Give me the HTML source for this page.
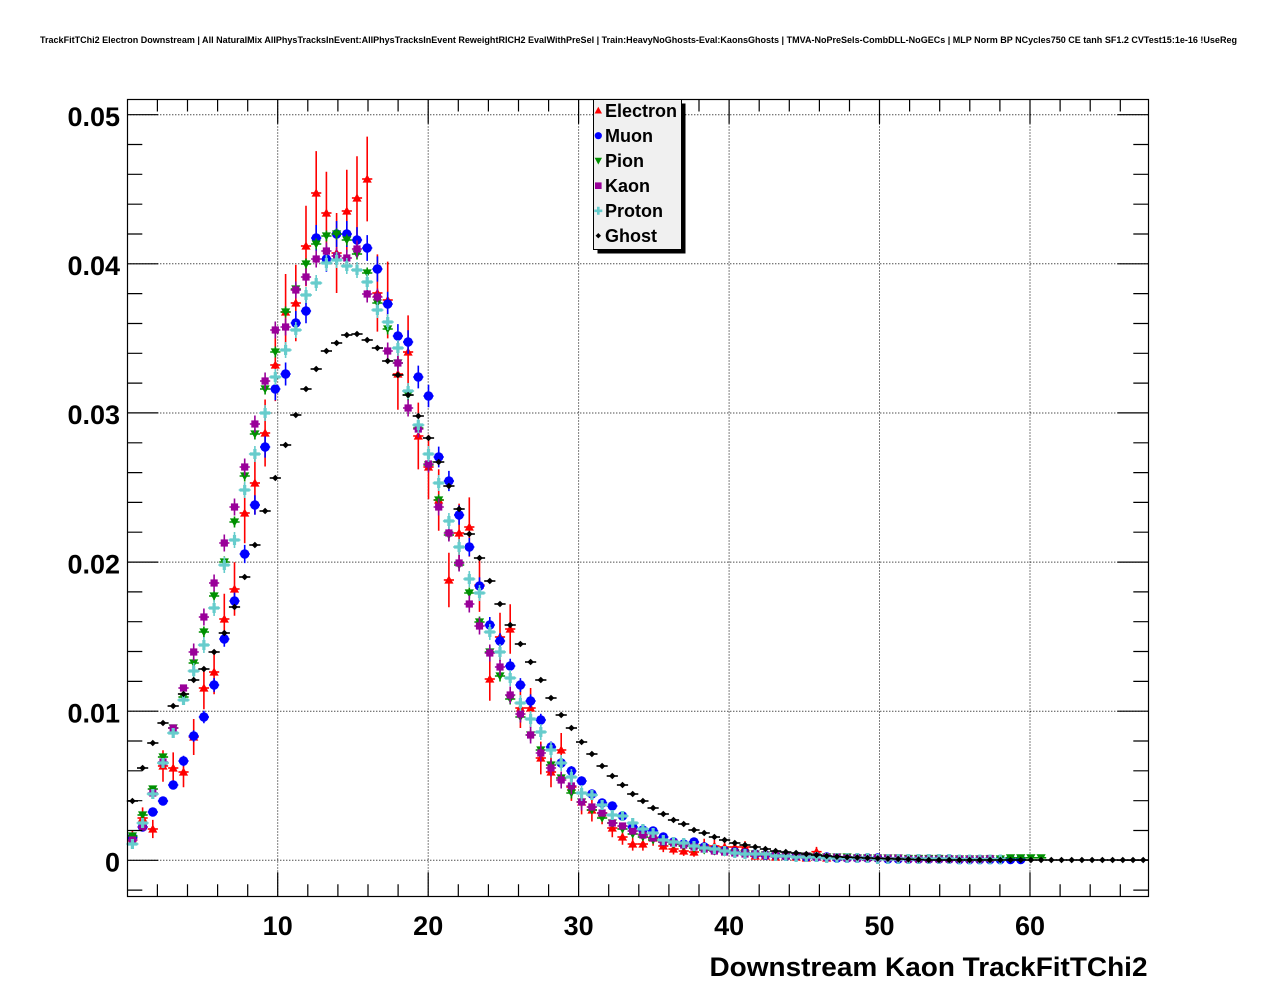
<!DOCTYPE html>
<html>
<head>
<meta charset="utf-8">
<style>
html,body{margin:0;padding:0;background:#fff;}
svg{display:block;}
text{font-family:"Liberation Sans",Arial,sans-serif;font-weight:bold;fill:#000;}
</style>
</head>
<body>
<svg width="1276" height="996" viewBox="0 0 1276 996" xmlns="http://www.w3.org/2000/svg">
<defs>
<marker id="mE" viewBox="-10 -10 20 20" markerWidth="20" markerHeight="20" refX="0" refY="0" markerUnits="userSpaceOnUse" orient="0" overflow="visible">
<path d="M-5.1,0H5.1" stroke="#ff0000" stroke-width="1.6"/>
<polygon points="0,-4.6 4.6,3.6 -4.6,3.6" fill="#ff0000"/>
</marker>
<marker id="mM" viewBox="-10 -10 20 20" markerWidth="20" markerHeight="20" refX="0" refY="0" markerUnits="userSpaceOnUse" orient="0" overflow="visible">
<path d="M-5.1,0H5.1" stroke="#0000ff" stroke-width="1.6"/>
<circle cx="0" cy="0" r="4.7" fill="#0000ff"/>
</marker>
<marker id="mP" viewBox="-10 -10 20 20" markerWidth="20" markerHeight="20" refX="0" refY="0" markerUnits="userSpaceOnUse" orient="0" overflow="visible">
<path d="M-5.1,0H5.1M0,-5.5V5.5" stroke="#009000" stroke-width="1.6"/>
<polygon points="0,4.6 4.6,-3.6 -4.6,-3.6" fill="#009000"/>
</marker>
<marker id="mP0" viewBox="-10 -10 20 20" markerWidth="20" markerHeight="20" refX="0" refY="0" markerUnits="userSpaceOnUse" orient="0" overflow="visible">
<path d="M-5.1,0H5.1" stroke="#009000" stroke-width="1.6"/>
<polygon points="0,4.6 4.6,-3.6 -4.6,-3.6" fill="#009000"/>
</marker>
<marker id="mK" viewBox="-10 -10 20 20" markerWidth="20" markerHeight="20" refX="0" refY="0" markerUnits="userSpaceOnUse" orient="0" overflow="visible">
<path d="M-5.1,0H5.1M0,-8.5V8.5" stroke="#990099" stroke-width="1.6"/>
<rect x="-3.6" y="-3.6" width="7.2" height="7.2" fill="#990099"/>
</marker>
<marker id="mK0" viewBox="-10 -10 20 20" markerWidth="20" markerHeight="20" refX="0" refY="0" markerUnits="userSpaceOnUse" orient="0" overflow="visible">
<path d="M-5.1,0H5.1" stroke="#990099" stroke-width="1.6"/>
<rect x="-3.6" y="-3.6" width="7.2" height="7.2" fill="#990099"/>
</marker>
<marker id="mC" viewBox="-10 -10 20 20" markerWidth="20" markerHeight="20" refX="0" refY="0" markerUnits="userSpaceOnUse" orient="0" overflow="visible">
<path d="M-6,0H6M0,-8V8" stroke="#66cccc" stroke-width="1.6"/>
<path d="M-5,-1.6h10v3.2h-10zM-1.6,-5h3.2v10h-3.2z" fill="#66cccc"/>
</marker>
<marker id="mC0" viewBox="-10 -10 20 20" markerWidth="20" markerHeight="20" refX="0" refY="0" markerUnits="userSpaceOnUse" orient="0" overflow="visible">
<path d="M-6,0H6" stroke="#66cccc" stroke-width="1.6"/>
<path d="M-5,-1.6h10v3.2h-10zM-1.6,-5h3.2v10h-3.2z" fill="#66cccc"/>
</marker>
<marker id="mG" viewBox="-10 -10 20 20" markerWidth="20" markerHeight="20" refX="0" refY="0" markerUnits="userSpaceOnUse" orient="0" overflow="visible">
<path d="M-5.6,0H5.6" stroke="#000" stroke-width="1.6"/>
<polygon points="0,-3.3 3.3,0 0,3.3 -3.3,0" fill="#000"/>
</marker>
</defs>

<rect x="0" y="0" width="1276" height="996" fill="#fff"/>
<text x="40" y="43" font-size="9.6" textLength="1197" lengthAdjust="spacingAndGlyphs">TrackFitTChi2 Electron Downstream | All NaturalMix AllPhysTracksInEvent:AllPhysTracksInEvent ReweightRICH2 EvalWithPreSel | Train:HeavyNoGhosts-Eval:KaonsGhosts | TMVA-NoPreSels-CombDLL-NoGECs | MLP Norm BP NCycles750 CE tanh SF1.2 CVTest15:1e-16 !UseReg</text>

<g stroke="#000" stroke-width="1" stroke-dasharray="1 2" fill="none">
<line x1="277.7" y1="99.5" x2="277.7" y2="896.3"/>
<line x1="428.2" y1="99.5" x2="428.2" y2="896.3"/>
<line x1="578.6" y1="99.5" x2="578.6" y2="896.3"/>
<line x1="729.1" y1="99.5" x2="729.1" y2="896.3"/>
<line x1="879.5" y1="99.5" x2="879.5" y2="896.3"/>
<line x1="1030" y1="99.5" x2="1030" y2="896.3"/>
<line x1="127.3" y1="860.3" x2="1148.3" y2="860.3"/>
<line x1="127.3" y1="711.2" x2="1148.3" y2="711.2"/>
<line x1="127.3" y1="562.1" x2="1148.3" y2="562.1"/>
<line x1="127.3" y1="413" x2="1148.3" y2="413"/>
<line x1="127.3" y1="263.8" x2="1148.3" y2="263.8"/>
<line x1="127.3" y1="114.7" x2="1148.3" y2="114.7"/>
</g>

<!-- Electron -->
<path fill="none" stroke="#ff0000" stroke-width="1.6" d="M132.4,830.3V845.7M142.6,807.4V828.6M152.8,819.9V838.1M163,750.2V781.8M173.2,752.4V783.6M183.5,756.8V787.2M193.7,719V755M203.9,666.7V709.3M214.1,649.7V694.3M224.3,593.8V644.2M234.5,562.3V615.7M244.7,482.8V543.2M254.9,451.5V514.5M265.1,399.5V466.5M275.3,328.9V401.1M285.6,274V350M295.8,264.7V341.3M306,205.8V286.2M316.2,151.1V234.9M326.4,171.7V254.3M336.6,213V293M346.8,169.7V252.3M357,156.2V239.8M367.2,136.6V221.4M377.4,254.4V331.6M387.7,261.6V338.4M397.9,338.2V409.8M408.1,315.4V388.6M418.3,402.6V469.4M428.5,434.8V499.2M438.7,469.2V530.8M448.9,552.8V607.2M459.1,503.6V562.4M469.3,497.4V556.6M479.5,558.1V611.9M489.8,657.2V700.8M500,612.8V661.2M510.2,604.3V653.7M520.4,688V728M530.6,688V728M540.8,741.6V774.4M551,756.8V787.2M561.2,733V767M571.4,773.1V800.9M581.6,789.6V814.4M591.9,798.5V821.5M602.1,801.8V824.2M612.3,818.8V837.2M622.5,829.2V844.8M632.7,837.4V850.6M642.9,837.4V850.6M653.1,830.3V845.7M663.3,839.9V852.1M673.5,843.5V854.5M683.7,846.1V855.9M694,847.3V856.7M704.2,838.7V851.3M714.4,839.9V852.1M724.6,841.1V852.9M734.8,841.1V852.9M745,841.1V852.9M755.2,852.6V859.4M765.4,852.6V859.4M775.6,853.9V860.1M785.8,852.6V859.4M796.1,853.9V860.1M806.3,855.5V860.5M816.5,846.9V856.5M826.7,855.5V860.5"/>
<polyline fill="none" stroke="none" marker-start="url(#mE)" marker-mid="url(#mE)" marker-end="url(#mE)" points="132.4,838 142.6,818 152.8,829 163,766 173.2,768 183.5,772 193.7,737 203.9,688 214.1,672 224.3,619 234.5,589 244.7,513 254.9,483 265.1,433 275.3,365 285.6,312 295.8,303 306,246 316.2,193 326.4,213 336.6,253 346.8,211 357,198 367.2,179 377.4,293 387.7,300 397.9,374 408.1,352 418.3,436 428.5,467 438.7,500 448.9,580 459.1,533 469.3,527 479.5,585 489.8,679 500,637 510.2,629 520.4,708 530.6,708 540.8,758 551,772 561.2,750 571.4,787 581.6,802 591.9,810 602.1,813 612.3,828 622.5,837 632.7,844 642.9,844 653.1,838 663.3,846 673.5,849 683.7,851 694,852 704.2,845 714.4,846 724.6,847 734.8,847 745,847 755.2,856 765.4,856 775.6,857 785.8,856 796.1,857 806.3,858 816.5,851.7 826.7,858"/>

<!-- Muon -->
<path fill="none" stroke="#0000ff" stroke-width="1.6" d="M132.4,834.5V839.5M142.6,824V830M152.8,808.4V815.6M163,797V805M173.2,780.5V789.5M183.5,755.8V766.2M193.7,730.2V741.8M203.9,710.8V723.2M214.1,678.1V691.9M224.3,631.3V646.7M234.5,592.6V609.4M244.7,544.9V563.1M254.9,495.2V514.8M265.1,436.4V457.6M275.3,377.7V400.3M285.6,362.5V385.5M295.8,311V335M306,298.8V323.2M316.2,225V251M326.4,246.3V271.7M336.6,221V247M346.8,221V247M357,227.1V252.9M367.2,235.1V260.9M377.4,256.4V281.6M387.7,291.7V316.3M397.9,324.1V347.9M408.1,330.2V353.8M418.3,365.6V388.4M428.5,384.8V407.2M438.7,446.6V467.4M448.9,470.9V491.1M459.1,505.3V524.7M469.3,537.8V556.2M479.5,577.4V594.6M489.8,617V633M500,633.3V648.7M510.2,658.8V673.2M520.4,678.1V691.9M530.6,694.4V707.6M540.8,713.8V726.2M551,741.5V752.5M561.2,757.9V768.1M571.4,766.1V775.9M581.6,776.4V785.6M591.9,789.8V798.2M602.1,799.1V806.9M612.3,802.2V809.8M622.5,812.5V819.5M632.7,824V830"/>
<polyline fill="none" stroke="none" marker-start="url(#mM)" marker-mid="url(#mM)" marker-end="url(#mM)" points="132.4,837 142.6,827 152.8,812 163,801 173.2,785 183.5,761 193.7,736 203.9,717 214.1,685 224.3,639 234.5,601 244.7,554 254.9,505 265.1,447 275.3,389 285.6,374 295.8,323 306,311 316.2,238 326.4,259 336.6,234 346.8,234 357,240 367.2,248 377.4,269 387.7,304 397.9,336 408.1,342 418.3,377 428.5,396 438.7,457 448.9,481 459.1,515 469.3,547 479.5,586 489.8,625 500,641 510.2,666 520.4,685 530.6,701 540.8,720 551,747 561.2,763 571.4,771 581.6,781 591.9,794 602.1,803 612.3,806 622.5,816 632.7,827 642.9,830 653.1,831 663.3,837 673.5,842 683.7,844 694,842 704.2,847 714.4,850 724.6,851 734.8,852 745,853 755.2,854 765.4,855 775.6,855 785.8,856 796.1,856 806.3,857 816.5,857 826.7,857 836.9,858 847.1,858 857.3,858 867.5,858 877.7,858 887.9,859 898.2,859 908.4,859 918.6,859 928.8,859 939,859 949.2,859 959.4,859.5 969.6,859.5 979.8,859.5 990,859.5 1000.3,859.5 1010.5,859.5 1020.7,859.5"/>

<!-- Pion -->
<polyline fill="none" stroke="none" marker-start="url(#mP)" marker-mid="url(#mP)" marker-end="url(#mP)" points="193.7,663 203.9,632 214.1,596 224.3,562 234.5,522 244.7,476 254.9,434 265.1,389 275.3,352 285.6,312 295.8,289 306,264 316.2,244 326.4,236 336.6,234 346.8,240 357,254 367.2,273 377.4,303 387.7,329 397.9,363 408.1,395 418.3,428 428.5,465 438.7,500 448.9,535 459.1,565 469.3,593 479.5,622 489.8,652 500,676 510.2,699 520.4,717 530.6,735 540.8,750 551,765 561.2,778 571.4,793 581.6,802"/>
<polyline fill="none" stroke="none" marker-start="url(#mP0)" marker-mid="url(#mP0)" marker-end="url(#mP0)" points="132.4,836 142.6,815 152.8,789 163,757 173.2,728 183.5,697 591.9,810 602.1,818 612.3,823 622.5,829 632.7,834 642.9,837 653.1,840 663.3,842 673.5,844 683.7,846 694,848 704.2,850 714.4,851 724.6,852 734.8,853 745,854 755.2,854 765.4,855 775.6,855 785.8,856 796.1,856 806.3,856 816.5,857 826.7,857 836.9,857 847.1,857 857.3,858 867.5,858 877.7,858 887.9,858 898.2,858 908.4,858.5 918.6,858.5 928.8,858.5 939,858.5 949.2,859 959.4,859 969.6,859 979.8,859 990,859 1000.3,859 1010.5,857.8 1020.7,857.8 1030.9,857.8 1041.1,857.8"/>

<!-- Kaon -->
<polyline fill="none" stroke="none" marker-start="url(#mK)" marker-mid="url(#mK)" marker-end="url(#mK)" points="193.7,652 203.9,617 214.1,583 224.3,543 234.5,507 244.7,467 254.9,424 265.1,381 275.3,330 285.6,327 295.8,290 306,277 316.2,259 326.4,251 336.6,256 346.8,258 357,249 367.2,294 377.4,297 387.7,351 397.9,363 408.1,408 418.3,429 428.5,464 438.7,507 448.9,533 459.1,563 469.3,604 479.5,626 489.8,653 500,667 510.2,695 520.4,714 530.6,735 540.8,753 551,768 561.2,780 571.4,786 581.6,802"/>
<polyline fill="none" stroke="none" marker-start="url(#mK0)" marker-mid="url(#mK0)" marker-end="url(#mK0)" points="132.4,840 142.6,827 152.8,793 163,762 173.2,728 183.5,688 591.9,807 602.1,813 612.3,823 622.5,826 632.7,831 642.9,835 653.1,838 663.3,842 673.5,843 683.7,845 694,847 704.2,849 714.4,851 724.6,852 734.8,853 745,854 755.2,854 765.4,855 775.6,855 785.8,856 796.1,856 806.3,856 816.5,857 826.7,857 836.9,857 847.1,858 857.3,858 867.5,858 877.7,858 887.9,858 898.2,858 908.4,859 918.6,859 928.8,859 939,859 949.2,859 959.4,859 969.6,859 979.8,859 990,858.5"/>

<!-- Proton -->
<polyline fill="none" stroke="none" marker-start="url(#mC)" marker-mid="url(#mC)" marker-end="url(#mC)" points="193.7,671 203.9,645 214.1,608 224.3,565 234.5,540 244.7,490 254.9,454 265.1,413 275.3,377 285.6,350 295.8,330 306,295 316.2,283 326.4,263 336.6,260 346.8,266 357,270 367.2,282 377.4,310 387.7,322 397.9,348 408.1,391 418.3,425 428.5,454 438.7,483 448.9,521 459.1,547 469.3,579 479.5,593 489.8,632 500,652 510.2,678 520.4,703 530.6,719 540.8,732 551,750 561.2,763 571.4,777 581.6,793"/>
<polyline fill="none" stroke="none" marker-start="url(#mC0)" marker-mid="url(#mC0)" marker-end="url(#mC0)" points="132.4,844 142.6,823 152.8,794 163,763 173.2,733 183.5,700 591.9,795 602.1,805 612.3,815 622.5,816 632.7,823 642.9,829 653.1,833 663.3,840 673.5,842 683.7,843 694,846 704.2,848 714.4,849 724.6,851 734.8,853 745,854 755.2,854 765.4,854 775.6,856 785.8,856 796.1,857 806.3,857 816.5,857 826.7,858 836.9,858 847.1,858 857.3,858 867.5,858 877.7,859 887.9,859 898.2,859 908.4,859 918.6,859 928.8,859 939,859 949.2,859 959.4,859.5 969.6,859.5 979.8,859.5 990,859.5 1000.3,859.5"/>

<!-- Ghost -->
<polyline fill="none" stroke="none" marker-start="url(#mG)" marker-mid="url(#mG)" marker-end="url(#mG)" points="132.4,801 142.6,768 152.8,743 163,723 173.2,706 183.5,694 193.7,680 203.9,669 214.1,652 224.3,633 234.5,607 244.7,577 254.9,545 265.1,511 275.3,478 285.6,445 295.8,415 306,389 316.2,369 326.4,351 336.6,343 346.8,335 357,334 367.2,340 377.4,348 387.7,361 397.9,375 408.1,395 418.3,416 428.5,438 438.7,462 448.9,486 459.1,509 469.3,534 479.5,558 489.8,581 500,604 510.2,625 520.4,644 530.6,662 540.8,680 551,698 561.2,715 571.4,728 581.6,742 591.9,754 602.1,766 612.3,776 622.5,785 632.7,794 642.9,801 653.1,808 663.3,814 673.5,820 683.7,824 694,830 704.2,833 714.4,837 724.6,840 734.8,843 745,845 755.2,847 765.4,849 775.6,851 785.8,852 796.1,853 806.3,854 816.5,855 826.7,856 836.9,856.7 847.1,857.2 857.3,857.6 867.5,858 877.7,858.4 887.9,858.7 898.2,859 908.4,859.3 918.6,859.6 928.8,860 939,860 949.2,860 959.4,860 969.6,860 979.8,860 990,860 1000.3,860 1010.5,860 1020.7,860 1030.9,860 1041.1,860 1051.3,860 1061.5,860 1071.7,860 1081.9,860 1092.1,860 1102.4,860 1112.6,860 1122.8,860 1133,860 1143.2,860"/>

<rect x="127.5" y="99.5" width="1021" height="797" fill="none" stroke="#000" stroke-width="1.2"/>
<path fill="none" stroke="#000" stroke-width="1.2" d="M127.3,890.1h15M1148.3,890.1h-15M127.3,860.3h31M1148.3,860.3h-31M127.3,830.5h15M1148.3,830.5h-15M127.3,800.7h15M1148.3,800.7h-15M127.3,770.8h15M1148.3,770.8h-15M127.3,741h15M1148.3,741h-15M127.3,711.2h31M1148.3,711.2h-31M127.3,681.4h15M1148.3,681.4h-15M127.3,651.5h15M1148.3,651.5h-15M127.3,621.7h15M1148.3,621.7h-15M127.3,591.9h15M1148.3,591.9h-15M127.3,562.1h31M1148.3,562.1h-31M127.3,532.2h15M1148.3,532.2h-15M127.3,502.4h15M1148.3,502.4h-15M127.3,472.6h15M1148.3,472.6h-15M127.3,442.8h15M1148.3,442.8h-15M127.3,412.9h31M1148.3,412.9h-31M127.3,383.1h15M1148.3,383.1h-15M127.3,353.3h15M1148.3,353.3h-15M127.3,323.5h15M1148.3,323.5h-15M127.3,293.6h15M1148.3,293.6h-15M127.3,263.8h31M1148.3,263.8h-31M127.3,234h15M1148.3,234h-15M127.3,204.2h15M1148.3,204.2h-15M127.3,174.3h15M1148.3,174.3h-15M127.3,144.5h15M1148.3,144.5h-15M127.3,114.7h31M1148.3,114.7h-31
M157.4,896.3v-12M157.4,99.5v12M187.5,896.3v-12M187.5,99.5v12M217.6,896.3v-12M217.6,99.5v12M247.7,896.3v-12M247.7,99.5v12M277.7,896.3v-24M277.7,99.5v24M307.8,896.3v-12M307.8,99.5v12M337.9,896.3v-12M337.9,99.5v12M368,896.3v-12M368,99.5v12M398.1,896.3v-12M398.1,99.5v12M428.2,896.3v-24M428.2,99.5v24M458.3,896.3v-12M458.3,99.5v12M488.4,896.3v-12M488.4,99.5v12M518.5,896.3v-12M518.5,99.5v12M548.6,896.3v-12M548.6,99.5v12M578.6,896.3v-24M578.6,99.5v24M608.7,896.3v-12M608.7,99.5v12M638.8,896.3v-12M638.8,99.5v12M668.9,896.3v-12M668.9,99.5v12M699,896.3v-12M699,99.5v12M729.1,896.3v-24M729.1,99.5v24M759.2,896.3v-12M759.2,99.5v12M789.3,896.3v-12M789.3,99.5v12M819.4,896.3v-12M819.4,99.5v12M849.5,896.3v-12M849.5,99.5v12M879.5,896.3v-24M879.5,99.5v24M909.6,896.3v-12M909.6,99.5v12M939.7,896.3v-12M939.7,99.5v12M969.8,896.3v-12M969.8,99.5v12M999.9,896.3v-12M999.9,99.5v12M1030,896.3v-24M1030,99.5v24M1060.1,896.3v-12M1060.1,99.5v12M1090.2,896.3v-12M1090.2,99.5v12M1120.3,896.3v-12M1120.3,99.5v12"/>

<g font-size="27" text-anchor="end">
<text x="120" y="871.5">0</text>
<text x="120" y="722.4">0.01</text>
<text x="120" y="573.3">0.02</text>
<text x="120" y="424.2">0.03</text>
<text x="120" y="275">0.04</text>
<text x="120" y="125.9">0.05</text>
</g>
<g font-size="27" text-anchor="middle">
<text x="277.7" y="935">10</text>
<text x="428.2" y="935">20</text>
<text x="578.6" y="935">30</text>
<text x="729.1" y="935">40</text>
<text x="879.5" y="935">50</text>
<text x="1030" y="935">60</text>
</g>
<text x="1147.5" y="976" font-size="27" text-anchor="end" textLength="438" lengthAdjust="spacingAndGlyphs">Downstream Kaon TrackFitTChi2</text>

<!-- Legend -->
<rect x="597.5" y="103.5" width="88" height="150" fill="#000"/>
<rect x="593.5" y="99.5" width="88" height="150" fill="#f0f0f0" stroke="#000" stroke-width="1"/>
<g font-size="18">
<text x="605" y="117">Electron</text>
<text x="605" y="142">Muon</text>
<text x="605" y="167">Pion</text>
<text x="605" y="192">Kaon</text>
<text x="605" y="217">Proton</text>
<text x="605" y="242">Ghost</text>
</g>
<polygon points="598.3,106.7 602,113.5 594.6,113.5" fill="#ff0000"/>
<circle cx="598.3" cy="135.7" r="3.6" fill="#0000ff"/>
<polygon points="598.3,164.5 602,157.7 594.6,157.7" fill="#009000"/>
<rect x="595" y="182.4" width="6.6" height="6.6" fill="#990099"/>
<path d="M594.3,209.5h8v2.6h-8zM597,206.7h2.6v8h-2.6z" fill="#66cccc"/>
<polygon points="598.3,233 601,235.7 598.3,238.4 595.6,235.7" fill="#000"/>
</svg>
</body>
</html>
